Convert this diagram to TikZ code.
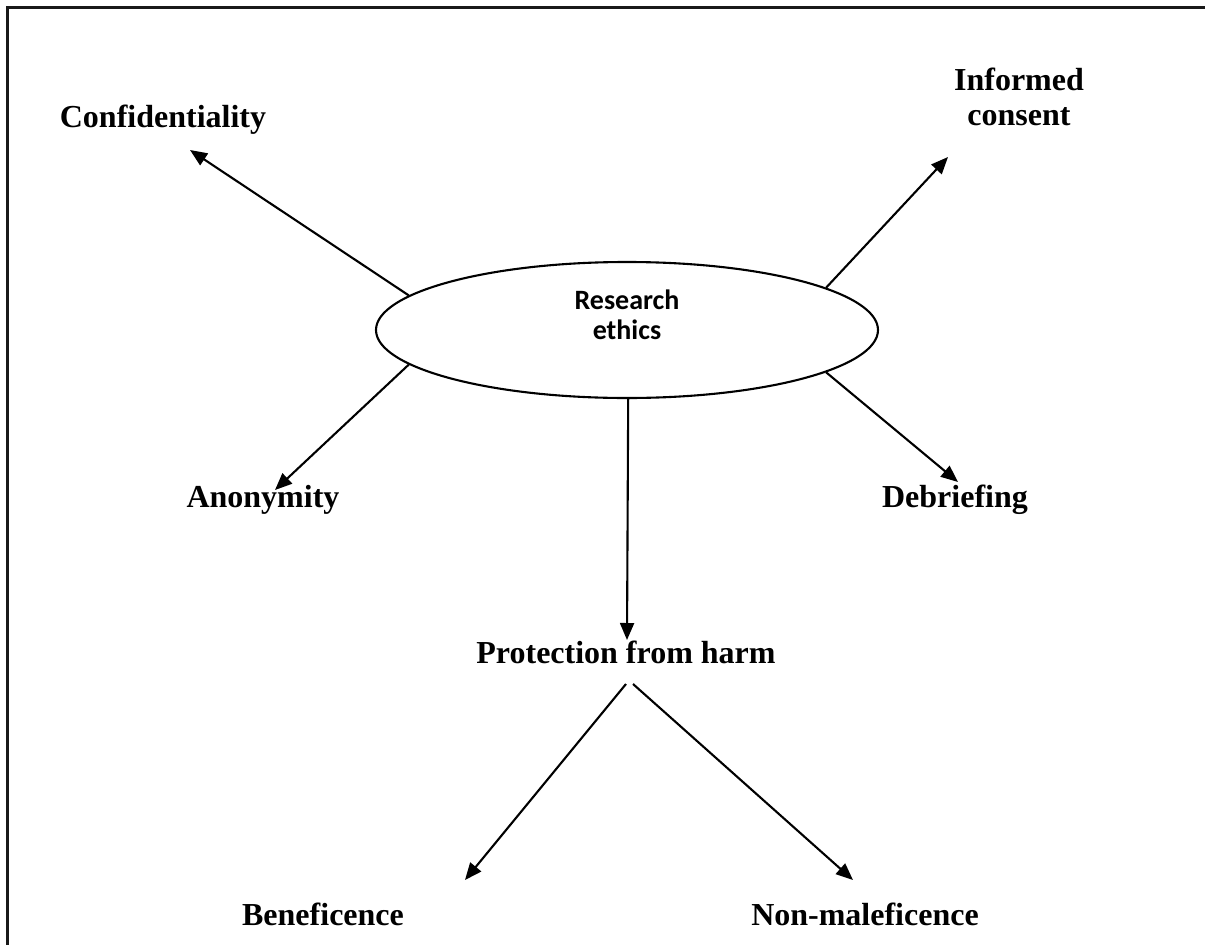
\documentclass[tikz,border=0pt]{standalone}
\usepackage{fontspec}
\setmainfont{Liberation Serif}
\newfontfamily\calfont{Carlito}
\usetikzlibrary{shapes.geometric,arrows.meta}
\begin{document}
\begin{tikzpicture}[x=1pt,y=-1pt,
  lbl/.style={font=\fontsize{32}{35}\selectfont\bfseries, inner sep=0pt, align=center},
  conn/.style={line width=2.1pt, -{Triangle[length=17pt,width=14pt]}},
  hub/.style={draw, ellipse, line width=2.1pt, minimum width=502pt, minimum height=136pt, inner sep=0pt}
]
\useasboundingbox (0,0) rectangle (1205,945);
\draw[line width=2.2pt, black!90] (7.5,945) -- (7.5,7.5) -- (1205,7.5);

\node[hub, label={[font=\calfont\bfseries\fontsize{28}{30}\selectfont, align=center, yshift=15pt]center:Research\\ethics}] (ell) at (627,330) {};

\node[lbl, anchor=base] (conf) at (163,127) {Confidentiality};
\node[lbl, anchor=north] (inf) at (1019,68) {Informed\\consent};
\node[lbl, anchor=base] (ano) at (263,507) {Anonymity};
\node[lbl, anchor=base] (deb) at (955,507) {Debriefing};
\node[lbl, anchor=base] (prot) at (626,663) {Protection from harm};
\node[lbl, anchor=base] (ben) at (323,925) {Beneficence};
\node[lbl, anchor=base] (non) at (865,925) {Non-maleficence};

\coordinate (tConf) at (190,150);
\coordinate (tInf) at (948,157);
\coordinate (tAno) at (275,490);
\coordinate (tDeb) at (958,482);
\coordinate (tProt) at (627,640);
\coordinate (sBen) at (626,684);
\coordinate (tBen) at (465,880);
\coordinate (sNon) at (633,684);
\coordinate (tNon) at (853,880);

\draw[conn] (ell.171.8) -- (tConf);
\draw[conn] (ell.12.3) -- (tInf);
\draw[conn] (ell.189.9) -- (tAno);
\draw[conn] (ell.348.3) -- (tDeb);
\draw[conn] (ell.271) -- (tProt);
\draw[conn] (sBen) -- (tBen);
\draw[conn] (sNon) -- (tNon);
\end{tikzpicture}
\end{document}
